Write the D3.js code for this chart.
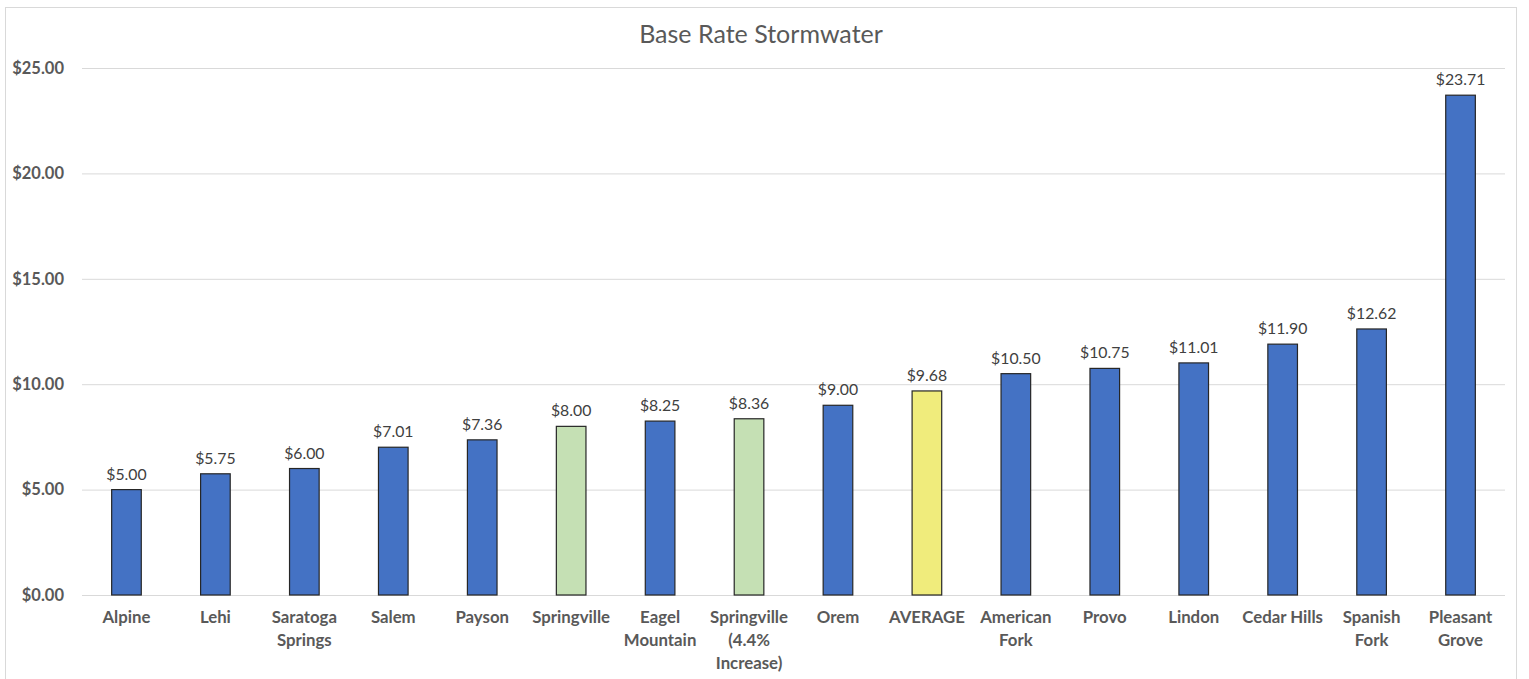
<!DOCTYPE html>
<html>
<head>
<meta charset="utf-8">
<script src="https://cdn.jsdelivr.net/npm/d3@7"></script>
<style>
  html, body { margin: 0; padding: 0; background: #ffffff; }
  svg { display: block; }
</style>
</head>
<body>
<svg id="chart" width="1529" height="679"></svg>
<script>
// Monthly base stormwater rate by city
const cities = [
  ["Alpine"], ["Lehi"], ["Saratoga", "Springs"], ["Salem"], ["Payson"],
  ["Springville"], ["Eagel", "Mountain"], ["Springville", "(4.4%", "Increase)"],
  ["Orem"], ["AVERAGE"], ["American", "Fork"], ["Provo"], ["Lindon"],
  ["Cedar Hills"], ["Spanish", "Fork"], ["Pleasant", "Grove"]
];
const rates = [5.00, 5.75, 6.00, 7.01, 7.36, 8.00, 8.25, 8.36, 9.00, 9.68, 10.50, 10.75, 11.01, 11.90, 12.62, 23.71];
const barKind = ["city", "city", "city", "city", "city", "springville", "city", "springville",
                 "city", "average", "city", "city", "city", "city", "city", "city"];
const yTicks = [0, 5, 10, 15, 20, 25];
const titleText = "Base Rate Stormwater";

const fills = { city: "#4472C4", springville: "#C5E0B4", average: "#F0EC7C" };

const svg = d3.select("#chart");
const W = 1529, H = 679;
const plot = { left: 82, right: 1505, top: 68, bottom: 595 };
const fontFamily = "Lato, 'Open Sans', 'Liberation Sans', sans-serif";

// Chart frame
svg.append("rect")
  .attr("x", 5.5).attr("y", 7.5)
  .attr("width", 1511).attr("height", H)
  .attr("fill", "#ffffff").attr("stroke", "#d9d9d9").attr("stroke-width", 1);

const keys = d3.range(cities.length);
const x = d3.scaleBand().domain(keys).range([plot.left, plot.right])
  .paddingInner(0.667).paddingOuter(0.3335);
const y = d3.scaleLinear().domain([0, 25]).range([plot.bottom, plot.top]);

// Gridlines + y labels
const yAxis = d3.axisLeft(y).tickValues(yTicks)
  .tickSize(-(plot.right - plot.left))
  .tickPadding(18)
  .tickFormat(d => "$" + d3.format(".2f")(d));
const gy = svg.append("g").attr("transform", `translate(${plot.left},0)`).call(yAxis);
gy.select(".domain").remove();
gy.selectAll(".tick line").attr("stroke", "#d9d9d9").attr("stroke-width", 1);
gy.selectAll(".tick text")
  .attr("fill", "#595959").attr("font-family", fontFamily)
  .attr("font-size", 16.5).attr("font-weight", "bold");

// Bars
svg.append("g").selectAll("rect").data(rates).join("rect")
  .attr("x", (d, i) => x(i))
  .attr("y", d => y(d))
  .attr("width", x.bandwidth())
  .attr("height", d => y(0) - y(d))
  .attr("fill", (d, i) => fills[barKind[i]])
  .attr("stroke", "#262626").attr("stroke-width", 1.2);

// Value labels
svg.append("g").selectAll("text").data(rates).join("text")
  .attr("x", (d, i) => x(i) + x.bandwidth() / 2)
  .attr("y", d => y(d) - 10)
  .attr("text-anchor", "middle")
  .attr("fill", "#404040").attr("font-family", fontFamily).attr("font-size", 15.8)
  .text(d => "$" + d3.format(".2f")(d));

// Category labels (multi-line)
const xl = svg.append("g").selectAll("text").data(cities).join("text")
  .attr("x", (d, i) => x(i) + x.bandwidth() / 2)
  .attr("y", 623)
  .attr("text-anchor", "middle")
  .attr("fill", "#595959").attr("font-family", fontFamily)
  .attr("font-size", 16.8).attr("font-weight", "bold");
xl.selectAll("tspan").data(d => d).join("tspan")
  .attr("x", function () { return d3.select(this.parentNode).attr("x"); })
  .attr("dy", (d, j) => j === 0 ? 0 : 23)
  .text(d => d);

// Title
svg.append("text")
  .attr("x", 761).attr("y", 43)
  .attr("text-anchor", "middle")
  .attr("fill", "#595959").attr("font-family", fontFamily).attr("font-size", 25)
  .text(titleText);
</script>
</body>
</html>
